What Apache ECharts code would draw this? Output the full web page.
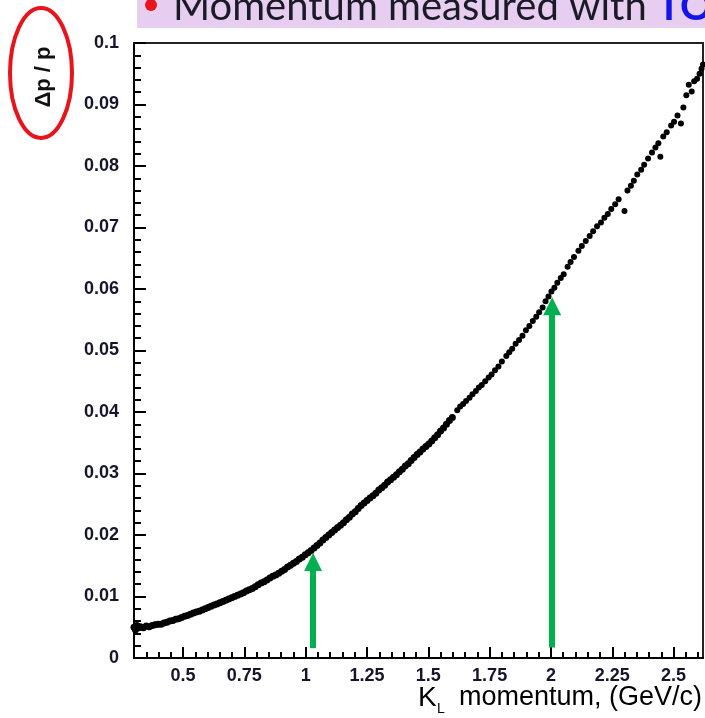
<!DOCTYPE html>
<html><head><meta charset="utf-8">
<script src="https://cdn.jsdelivr.net/npm/echarts@6/dist/echarts.min.js"></script>
<style>html,body{margin:0;padding:0;background:#fff}#c{width:705px;height:718px}</style>
</head><body><div id="c"></div>
<script>
// K_L momentum (GeV/c)
const kMomentum = [
0.300,0.306,0.312,0.318,0.326,0.338,0.350,0.362,0.374,0.386,0.398,0.410,0.422,0.434,0.446,0.458,0.470,0.482,0.494,0.506,
0.518,0.530,0.542,0.554,0.566,0.578,0.590,0.602,0.614,0.626,0.638,0.650,0.662,0.674,0.686,0.698,0.710,0.722,0.734,0.746,
0.758,0.770,0.782,0.794,0.806,0.818,0.830,0.842,0.854,0.866,0.878,0.890,0.902,0.914,0.926,0.938,0.950,0.962,0.974,0.986,
0.998,1.010,1.022,1.034,1.046,1.058,1.070,1.082,1.094,1.106,1.118,1.130,1.142,1.154,1.166,1.178,1.190,1.202,1.214,1.226,
1.238,1.250,1.262,1.274,1.286,1.298,1.310,1.322,1.334,1.346,1.358,1.370,1.382,1.394,1.406,1.418,1.430,1.442,1.454,1.466,
1.478,1.490,1.502,1.514,1.526,1.538,1.550,1.562,1.574,1.586,1.598,
1.618,1.630,1.642,1.654,1.668,1.680,1.694,1.706,1.718,1.732,1.746,1.758,1.772,1.786,1.800,1.818,1.830,1.842,1.856,1.870,
1.884,1.898,1.912,1.926,1.940,1.952,1.966,1.978,1.990,2.002,2.014,2.026,2.040,2.052,2.068,2.080,2.094,2.112,2.126,2.142,
2.158,2.172,2.188,2.204,2.218,2.232,2.246,2.262,2.276,2.300,2.312,2.326,2.338,2.352,2.368,2.380,2.396,2.412,2.426,2.438,
2.446,2.458,2.472,2.490,2.502,2.516,2.530,2.540,2.552,2.562,2.574,2.584,2.596,2.606,2.614,2.620
];
// Δp / p
const dpOverP = [
0.0050,0.0046,0.0053,0.0049,0.0051,0.0049,0.0052,0.0051,0.0053,0.0054,0.0055,0.0055,0.0057,0.0058,0.0060,0.0061,0.0063,0.0064,0.0066,0.0068,
0.0069,0.0071,0.0073,0.0075,0.0076,0.0078,0.0080,0.0082,0.0084,0.0086,0.0088,0.0090,0.0092,0.0094,0.0096,0.0098,0.0100,0.0102,0.0104,0.0106,
0.0109,0.0111,0.0113,0.0116,0.0119,0.0122,0.0124,0.0127,0.0130,0.0133,0.0135,0.0138,0.0141,0.0144,0.0148,0.0151,0.0154,0.0157,0.0161,0.0164,
0.0168,0.0171,0.0175,0.0179,0.0183,0.0187,0.0192,0.0196,0.0200,0.0204,0.0208,0.0212,0.0216,0.0220,0.0225,0.0229,0.0234,0.0238,0.0243,0.0248,
0.0252,0.0256,0.0260,0.0264,0.0268,0.0273,0.0277,0.0281,0.0286,0.0290,0.0294,0.0298,0.0303,0.0307,0.0312,0.0316,0.0321,0.0326,0.0331,0.0335,
0.0340,0.0344,0.0348,0.0353,0.0358,0.0363,0.0369,0.0374,0.0380,0.0386,0.0391,
0.0403,0.0409,0.0413,0.0418,0.0423,0.0429,0.0434,0.0440,0.0444,0.0450,0.0456,0.0461,0.0468,0.0474,0.0482,0.0491,0.0497,0.0503,0.0511,0.0517,
0.0524,0.0533,0.0540,0.0548,0.0555,0.0562,0.0570,0.0580,0.0588,0.0596,0.0602,0.0610,0.0618,0.0624,0.0636,0.0644,0.0652,0.0662,0.0670,0.0678,
0.0686,0.0694,0.0702,0.0708,0.0716,0.0722,0.0730,0.0738,0.0746,0.0727,0.0760,0.0768,0.0776,0.0786,0.0794,0.0802,0.0812,0.0822,0.0830,0.0837,
0.0815,0.0848,0.0855,0.0866,0.0872,0.0882,0.0869,0.0895,0.0915,0.0932,0.0921,0.0938,0.0942,0.0950,0.0958,0.0965
];
const xTickLabels = [0.5, 0.75, 1, 1.25, 1.5, 1.75, 2, 2.25, 2.5];
const yTickInterval = 0.01;
// green arrows: x position, base and tip-centre values
const arrowX = [1.03, 2.005];
const arrowBase = [0.0016, 0.0017];
const arrowHead = [0.0156, 0.0572];

const X_MIN = 0.3, X_MAX = 2.62, Y_MIN = 0, Y_MAX = 0.1;
// minor x ticks every 0.05 (skipping the labelled 0.25 multiples)
const minorX = [];
for (let k = 6; k <= 52; k++) { if (k % 5 !== 0) minorX.push(k / 20); }

const chart = echarts.init(document.getElementById('c'), null, {renderer: 'canvas'});
const FONT = '"Liberation Sans", Arial, sans-serif';
const lblColor = '#16162a';
const tickLS = {color: '#000', width: 2};
const option = {
  backgroundColor: '#ffffff',
  animation: false,
  grid: {left: 134, right: 2, top: 43, bottom: 60},
  xAxis: [
    {type: 'value', min: X_MIN, max: X_MAX, position: 'bottom',
     axisLine: {show: true, onZero: false, lineStyle: {color: '#000', width: 2}},
     axisTick: {show: true, inside: true, length: 11, customValues: xTickLabels, lineStyle: tickLS},
     axisLabel: {show: true, customValues: xTickLabels, fontSize: 18, fontWeight: 'bold', color: lblColor, fontFamily: FONT, margin: 9},
     splitLine: {show: false}},
    {type: 'value', min: X_MIN, max: X_MAX, position: 'bottom',
     axisLine: {show: false, onZero: false},
     axisTick: {show: true, inside: true, length: 6, customValues: minorX, lineStyle: tickLS},
     axisLabel: {show: false}, splitLine: {show: false}},
    {type: 'value', min: X_MIN, max: X_MAX, position: 'top',
     axisLine: {show: true, onZero: false, lineStyle: {color: '#222', width: 2}},
     axisTick: {show: false}, axisLabel: {show: false}, splitLine: {show: false}}
  ],
  yAxis: [
    {type: 'value', min: Y_MIN, max: Y_MAX, interval: yTickInterval, position: 'left',
     axisLine: {show: true, onZero: false, lineStyle: {color: '#000', width: 2}},
     axisTick: {show: true, inside: true, length: 12, lineStyle: tickLS},
     minorTick: {show: true, splitNumber: 5, length: 7, lineStyle: tickLS},
     axisLabel: {fontSize: 18, fontWeight: 'bold', color: lblColor, fontFamily: FONT, margin: 15},
     splitLine: {show: false}, minorSplitLine: {show: false}},
    {type: 'value', min: Y_MIN, max: Y_MAX, position: 'right',
     axisLine: {show: true, onZero: false, lineStyle: {color: '#222', width: 2}},
     axisTick: {show: false}, axisLabel: {show: false}, splitLine: {show: false}}
  ],
  series: [
    {
      type: 'scatter', xAxisIndex: 0, yAxisIndex: 0,
      data: kMomentum.map((x, i) => [x, dpOverP[i]]),
      symbol: 'circle',
      symbolSize: (v) => (v[0] < 1.6 ? 7 : 6),
      itemStyle: {color: '#000', opacity: 1},
      silent: true, z: 3,
      markLine: {
        silent: true, animation: false,
        symbol: ['none', 'triangle'], symbolSize: [18, 18],
        label: {show: false},
        emphasis: {disabled: true},
        itemStyle: {color: '#00b050'},
        lineStyle: {color: '#00b050', width: 6, type: 'solid', opacity: 1},
        data: arrowX.map((x, i) => [{coord: [x, arrowBase[i]]}, {coord: [x, arrowHead[i]]}])
      }
    }
  ],
  graphic: [
    {type: 'rect', left: 137, top: 0, shape: {width: 568, height: 28}, style: {fill: '#e7cdf0'}, z: 10},
    {type: 'circle', shape: {cx: 151, cy: 5, r: 6}, style: {fill: '#e8141c'}, z: 11},
    {type: 'text', x: 173, y: 7, z: 11,
     style: {text: '{a|Momentum measured with }{b|TOF}', verticalAlign: 'middle', align: 'left',
       rich: {a: {fontSize: 40, fontFamily: 'Lato, "Open Sans", sans-serif', fill: '#1b1b28'},
              b: {fontSize: 40, fontFamily: 'Lato, "Open Sans", sans-serif', fontWeight: 'bold', fill: '#1414e6'}}}},
    {type: 'ellipse', shape: {cx: 41, cy: 73, rx: 31, ry: 65}, style: {fill: 'none', stroke: '#e8141c', lineWidth: 4}, z: 11},
    {type: 'text', x: 44, y: 77, rotation: Math.PI / 2, z: 11,
     style: {text: 'Δp / p', font: 'bold 22px ' + FONT, fill: '#111', align: 'center', verticalAlign: 'middle'}},
    {type: 'text', x: 418, y: 698, z: 11,
     style: {text: 'K', font: '28px ' + FONT, fill: '#000', align: 'left', verticalAlign: 'middle'}},
    {type: 'text', x: 437, y: 709, z: 11,
     style: {text: 'L', font: '14px ' + FONT, fill: '#000', align: 'left', verticalAlign: 'middle'}},
    {type: 'text', x: 459, y: 698, z: 11,
     style: {text: 'momentum, (GeV/c)', font: '27px ' + FONT, fill: '#000', align: 'left', verticalAlign: 'middle'}}
  ]
};
chart.setOption(option);
</script>
</body></html>
